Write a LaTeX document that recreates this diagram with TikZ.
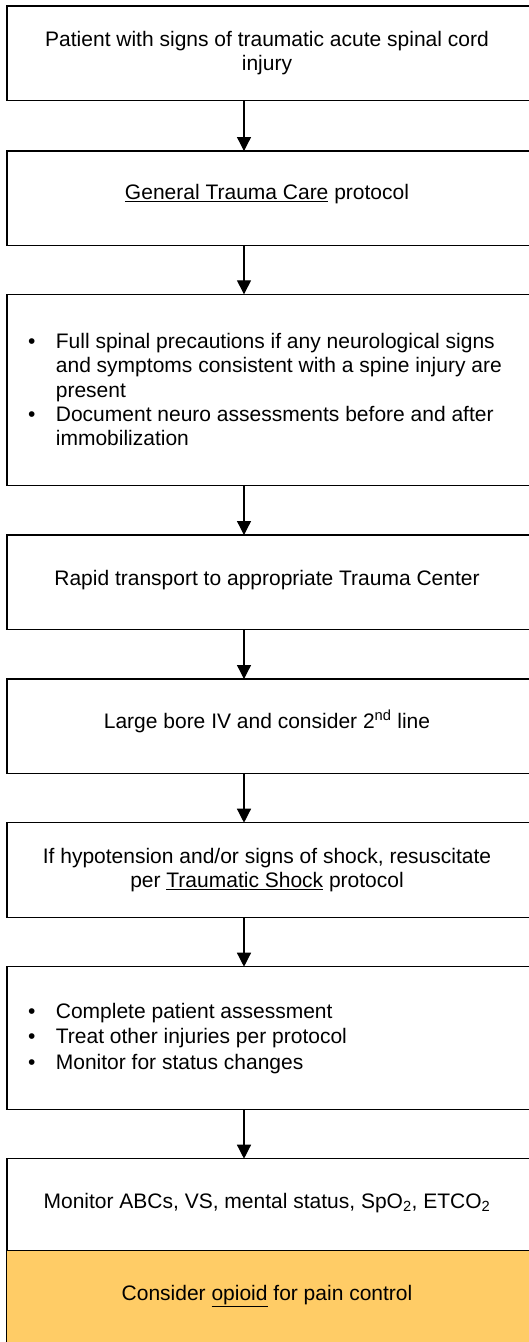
\documentclass[tikz,border=0pt]{standalone}
\usepackage{fontspec}
\setmainfont{Liberation Sans}
\usetikzlibrary{arrows.meta}
\definecolor{orangefill}{RGB}{255,204,102}
\tikzset{
  box/.style={draw=black, line width=1.4pt, rectangle, anchor=north west, minimum width=545pt, inner sep=0pt, outer sep=0pt},
  txt/.style={anchor=base, inner sep=0pt, font=\fontsize{21}{24.2}\selectfont},
  ltxt/.style={anchor=base west, inner sep=0pt, font=\fontsize{21}{24.2}\selectfont},
  bul/.style={anchor=base, inner sep=0pt, font=\fontsize{21}{24.2}\selectfont},
  arr/.style={line width=1.3pt, -{Triangle[width=14pt,length=14pt]}}
}
\begin{document}
\begin{tikzpicture}[x=1pt,y=-1pt]
\useasboundingbox (0,0) rectangle (529,1342);
\clip (0,0) rectangle (529,1342);
\fill[white] (0,0) rectangle (529,1342);
% boxes
\node[box, minimum height=94.7pt] (b1) at (7,6) {};
\node[box, minimum height=94.7pt] (b2) at (7,151) {};
\node[box, minimum height=191pt] (b3) at (7,294.3) {};
\node[box, minimum height=94.3pt] (b4) at (7,535) {};
\node[box, minimum height=94.3pt] (b5) at (7,679) {};
\node[box, minimum height=94.6pt] (b6) at (7,822.7) {};
\node[box, minimum height=142.6pt] (b7) at (7,966.7) {};
\node[box, minimum height=92pt] (b8) at (7,1158.7) {};
\node[box, fill=orangefill, minimum height=130pt] (b9) at (6.5,1250.7) {};
% arrow axis
\coordinate (ax) at (244,0);
\draw[arr] (b1.south -| ax) -- (b2.north -| ax);
\draw[arr] (b2.south -| ax) -- (b3.north -| ax);
\draw[arr] (b3.south -| ax) -- (b4.north -| ax);
\draw[arr] (b4.south -| ax) -- (b5.north -| ax);
\draw[arr] (b5.south -| ax) -- (b6.north -| ax);
\draw[arr] (b6.south -| ax) -- (b7.north -| ax);
\draw[arr] (b7.south -| ax) -- (b8.north -| ax);
% texts
\node[txt] (t1a) at (267,46) {Patient with signs of traumatic acute spinal cord};
\node[txt] (t1b) at (267,70) {injury};
\node[txt] (t2) at (267,199.5) {\underline{General Trauma Care} protocol};
\node[bul] (u3a) at (31.7,348.5) {•};
\node[ltxt] (t3a) at (55.7,348.5) {Full spinal precautions if any neurological signs};
\node[ltxt] (t3b) at (55.7,372.7) {and symptoms consistent with a spine injury are};
\node[ltxt] (t3c) at (55.7,397) {present};
\node[bul] (u3d) at (31.7,421.2) {•};
\node[ltxt] (t3d) at (55.7,421.2) {Document neuro assessments before and after};
\node[ltxt] (t3e) at (55.7,445.5) {immobilization};
\node[txt] (t4) at (267,585) {Rapid transport to appropriate Trauma Center};
\node[txt] (t5) at (267,728.5) {Large bore IV and consider 2\textsuperscript{nd} line};
\node[txt] (t6a) at (267,863.5) {If hypotension and/or signs of shock, resuscitate};
\node[txt] (t6b) at (267,887.7) {per \underline{Traumatic Shock} protocol};
\node[bul] (u7a) at (31.7,1018) {•};
\node[ltxt] (t7a) at (55.7,1018) {Complete patient assessment};
\node[bul] (u7b) at (31.7,1043.8) {•};
\node[ltxt] (t7b) at (55.7,1043.8) {Treat other injuries per protocol};
\node[bul] (u7c) at (31.7,1069.6) {•};
\node[ltxt] (t7c) at (55.7,1069.6) {Monitor for status changes};
\node[txt] (t8) at (267,1208.5) {Monitor ABCs, VS, mental status, SpO\textsubscript{2}, ETCO\textsubscript{2}};
\node[txt] (t9) at (267,1300) {Consider \underline{opioid} for pain control};
\end{tikzpicture}
\end{document}
